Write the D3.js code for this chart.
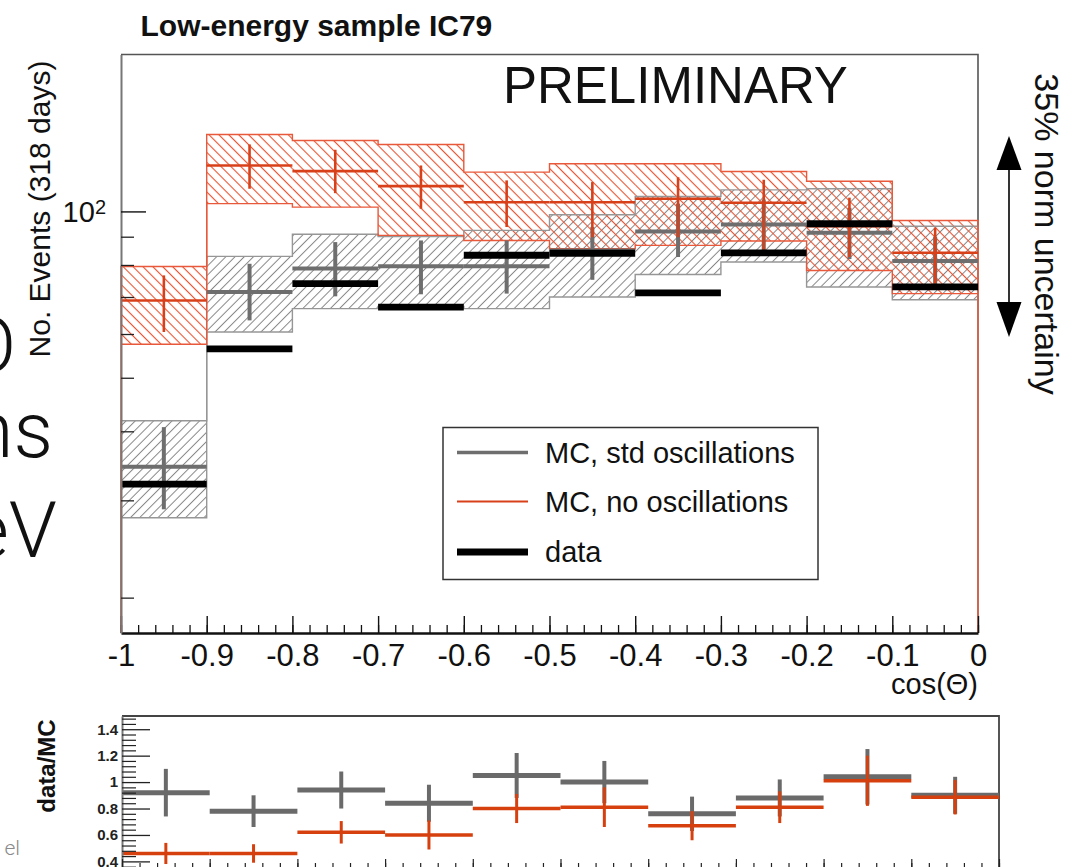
<!DOCTYPE html>
<html>
<head>
<meta charset="utf-8">
<script src="https://cdn.jsdelivr.net/npm/d3@7"></script>
<style>
  html, body { margin: 0; padding: 0; background: #ffffff; }
  svg { display: block; }
</style>
</head>
<body>
<svg id="chart" width="1083" height="867"></svg>
<script>
// ---- bins in cos(theta) ----
const binEdges = [-1.0, -0.9, -0.8, -0.7, -0.6, -0.5, -0.4, -0.3, -0.2, -0.1, 0.0];

// MC, no oscillations: central value, stat. error-bar ends, systematic band
const noOscValue    = [69.0, 121.1, 118.3, 111.1, 103.9, 103.9, 105.4, 103.7, 94.0, 84.2];
const noOscStatLow  = [60.5, 109.9, 107.9, 101.1, 93.7, 89.8, 89.8, 85.2, 82.7, 74.0];
const noOscStatHigh = [76.6, 132.2, 129.3, 121.1, 113.8, 113.0, 115.3, 114.1, 105.9, 93.4];
const noOscBandLow  = [57.5, 103.3, 101.8, 90.5, 88.6, 85.6, 86.8, 88.4, 78.2, 71.0];
const noOscBandHigh = [79.5, 137.8, 134.4, 132.2, 117.8, 122.0, 122.0, 118.1, 113.4, 96.3];

// MC, standard oscillations
const stdOscValue    = [34.5, 71.5, 78.8, 79.6, 79.6, 85.0, 92.0, 94.7, 91.5, 81.3];
const stdOscStatLow  = [28.9, 63.5, 70.2, 70.8, 71.0, 75.2, 82.7, 85.0, 82.0, 73.0];
const stdOscStatHigh = [40.7, 80.4, 88.0, 88.6, 88.6, 93.7, 103.3, 105.1, 101.5, 90.0];
const stdOscBandLow  = [27.9, 60.5, 66.7, 67.3, 66.7, 70.0, 76.9, 81.0, 73.0, 69.2];
const stdOscBandHigh = [41.8, 82.9, 90.9, 90.1, 92.4, 98.6, 106.4, 109.4, 109.9, 94.0];

// observed events
const dataValue = [32.1, 56.4, 74.0, 67.1, 83.3, 84.0, 71.2, 84.1, 95.0, 73.0];

// data/MC ratios
const ratioStd        = [0.92, 0.78, 0.94, 0.84, 1.05, 1.00, 0.76, 0.88, 1.04, 0.90];
const ratioStdErr     = [0.18, 0.12, 0.14, 0.14, 0.17, 0.16, 0.13, 0.14, 0.21, 0.14];
const ratioNoOsc      = [0.46, 0.46, 0.62, 0.60, 0.80, 0.81, 0.67, 0.81, 1.01, 0.885];
const ratioNoOscErr   = [0.08, 0.07, 0.085, 0.11, 0.11, 0.15, 0.11, 0.12, 0.19, 0.13];

// tick labels
const xTickValues = [-1.0, -0.9, -0.8, -0.7, -0.6, -0.5, -0.4, -0.3, -0.2, -0.1, 0.0];
const xTickLabels = ["-1", "-0.9", "-0.8", "-0.7", "-0.6", "-0.5", "-0.4", "-0.3", "-0.2", "-0.1", "0"];
const yMinorTickValues = [20, 30, 40, 50, 60, 70, 80, 90];
const yMajorTickValues = [100];
const ratioTickValues = [0.4, 0.6, 0.8, 1.0, 1.2, 1.4];
const ratioTickLabels = ["0.4", "0.6", "0.8", "1", "1.2", "1.4"];

const legendLabels = ["MC, std oscillations", "MC, no oscillations", "data"];

// ---- styling ----
const FONT = "'Liberation Sans', Arial, Helvetica, sans-serif";
const LIGHT_FONT = "Roboto, 'Open Sans', 'Liberation Sans', sans-serif";
const RED = "#d8401a";
const RED_HATCH = "#ea5230";
const RED_EDGE = "#e8583a";
const GREY = "#6e6e6e";
const GREY_HATCH = "#868686";
const GREY_EDGE = "#969696";

const svg = d3.select("#chart");

// ---- scales ----
const x = d3.scaleLinear().domain([-1, 0]).range([121, 978]);
const y = d3.scaleLog().domain([17.26, 192.3]).range([633, 54.5]);
const xr = d3.scaleLinear().domain([-1, 0]).range([122, 999]);
const yr = d3.scaleLinear().domain([0.35, 1.5]).range([868, 716]);

const bins = d3.range(binEdges.length - 1).map(i => ({
  i, lo: binEdges[i], hi: binEdges[i + 1], mid: (binEdges[i] + binEdges[i + 1]) / 2
}));

// ---- hatch patterns ----
const defs = svg.append("defs");
function hatch(id, color, angle, gap, width) {
  const p = defs.append("pattern")
    .attr("id", id)
    .attr("patternUnits", "userSpaceOnUse")
    .attr("width", gap).attr("height", gap)
    .attr("patternTransform", `rotate(${angle})`);
  p.append("line")
    .attr("x1", gap / 2).attr("y1", -1)
    .attr("x2", gap / 2).attr("y2", gap + 1)
    .attr("stroke", color).attr("stroke-width", width);
}
hatch("hatch-grey", GREY_HATCH, 45, 6.5, 1.0);
hatch("hatch-red", RED_HATCH, -45, 7.0, 1.1);

// ---- background slide text fragments ----
const frag = svg.append("g").attr("font-family", LIGHT_FONT).attr("font-weight", 300).attr("fill", "#111");
frag.append("text").attr("x", 16).attr("y", 372).attr("text-anchor", "end").attr("font-size", 78).text("O");
frag.append("text").attr("x", 53).attr("y", 457).attr("text-anchor", "end").attr("font-size", 78).text("ns");
frag.append("text").attr("x", 57).attr("y", 557).attr("text-anchor", "end").attr("font-size", 78).text("eV");
frag.append("text").attr("x", 20).attr("y", 855).attr("text-anchor", "end").attr("font-size", 21)
  .attr("fill", "#8a8a8a").text("el");

// ---- title ----
svg.append("text")
  .attr("x", 140.5).attr("y", 36)
  .attr("font-family", FONT).attr("font-weight", "bold").attr("font-size", 30)
  .attr("fill", "#111")
  .text("Low-energy sample IC79");

// ---- main frame (top and right border) ----
const [px0, px1] = x.range();
const [pyB, pyT] = y.range();
svg.append("path")
  .attr("d", `M${px0},${pyT}H${px1}V${pyB}`)
  .attr("fill", "none").attr("stroke", "#555").attr("stroke-width", 1.6);

// ---- systematic bands ----
function drawBand(cls, low, high, fill) {
  svg.append("g").attr("class", cls)
    .selectAll("rect").data(bins).join("rect")
    .attr("x", d => x(d.lo))
    .attr("width", d => x(d.hi) - x(d.lo))
    .attr("y", d => y(high[d.i]))
    .attr("height", d => y(low[d.i]) - y(high[d.i]))
    .attr("fill", fill);
}
drawBand("band-std", stdOscBandLow, stdOscBandHigh, "url(#hatch-grey)");
drawBand("band-noosc", noOscBandLow, noOscBandHigh, "url(#hatch-red)");

// band outlines as step contours
function stepPath(vals, dropToAxis) {
  const p = d3.path();
  p.moveTo(x(binEdges[0]), dropToAxis ? pyB : y(vals[0]));
  vals.forEach((v, i) => {
    p.lineTo(x(binEdges[i]), y(v));
    p.lineTo(x(binEdges[i + 1]), y(v));
  });
  if (dropToAxis) p.lineTo(x(binEdges[binEdges.length - 1]), pyB);
  return p.toString();
}
function drawEdges(low, high, color) {
  const g = svg.append("g").attr("fill", "none").attr("stroke", color).attr("stroke-width", 1.4);
  g.append("path").attr("d", stepPath(high, true));
  g.append("path").attr("d", stepPath(low, false));
}
drawEdges(stdOscBandLow, stdOscBandHigh, GREY_EDGE);
drawEdges(noOscBandLow, noOscBandHigh, RED_EDGE);

// ---- MC crosses ----
function drawCrosses(vals, lo, hi, color, hw, vw) {
  const g = svg.append("g").attr("stroke", color);
  g.selectAll("line.h").data(bins).join("line").attr("class", "h")
    .attr("x1", d => x(d.lo)).attr("x2", d => x(d.hi))
    .attr("y1", d => y(vals[d.i])).attr("y2", d => y(vals[d.i]))
    .attr("stroke-width", hw);
  g.selectAll("line.v").data(bins).join("line").attr("class", "v")
    .attr("x1", d => x(d.mid)).attr("x2", d => x(d.mid))
    .attr("y1", d => y(hi[d.i])).attr("y2", d => y(lo[d.i]))
    .attr("stroke-width", vw);
}
drawCrosses(stdOscValue, stdOscStatLow, stdOscStatHigh, GREY, 4, 4);
drawCrosses(noOscValue, noOscStatLow, noOscStatHigh, RED, 2.6, 2.6);

// ---- data ----
svg.append("g").attr("stroke", "#000").attr("stroke-width", 6.8)
  .selectAll("line").data(bins).join("line")
  .attr("x1", d => x(d.lo)).attr("x2", d => x(d.hi))
  .attr("y1", d => y(dataValue[d.i])).attr("y2", d => y(dataValue[d.i]));

// ---- main axes ----
const xMinor = d3.range(-1, 0.0001, 0.02);
const gxMinor = svg.append("g").attr("transform", `translate(0,${pyB})`)
  .call(d3.axisBottom(x).tickValues(xMinor).tickSize(-8).tickSizeOuter(0).tickFormat(""));
gxMinor.select(".domain").remove();
gxMinor.selectAll(".tick line").attr("stroke", "#111").attr("stroke-width", 1.3);

const gx = svg.append("g").attr("transform", `translate(0,${pyB})`)
  .call(d3.axisBottom(x).tickValues(xTickValues).tickSize(-17).tickSizeOuter(0).tickPadding(11)
    .tickFormat((d, i) => xTickLabels[i]));
gx.select(".domain").attr("stroke", "#111").attr("stroke-width", 2.4);
gx.selectAll(".tick line").attr("stroke", "#111").attr("stroke-width", 1.4);
gx.selectAll(".tick text").attr("font-family", FONT).attr("font-size", 31).attr("fill", "#111");

svg.append("text")
  .attr("x", 978).attr("y", 694)
  .attr("text-anchor", "end")
  .attr("font-family", FONT).attr("font-size", 29).attr("fill", "#111")
  .text("cos(Θ)");

const gyMinor = svg.append("g").attr("transform", `translate(${px0},0)`)
  .call(d3.axisLeft(y).tickValues(yMinorTickValues).tickSize(-13).tickSizeOuter(0).tickFormat(""));
gyMinor.select(".domain").attr("stroke", "#777").attr("stroke-width", 2);
gyMinor.selectAll(".tick line").attr("stroke", "#222").attr("stroke-width", 1.3);

const gy = svg.append("g").attr("transform", `translate(${px0},0)`)
  .call(d3.axisLeft(y).tickValues(yMajorTickValues).tickSize(-25).tickSizeOuter(0).tickFormat(""));
gy.select(".domain").remove();
gy.selectAll(".tick line").attr("stroke", "#111").attr("stroke-width", 1.4);
gy.selectAll(".tick").each(function () {
  const t = d3.select(this).append("text")
    .attr("x", -15).attr("y", 10.5)
    .attr("text-anchor", "end")
    .attr("font-family", FONT).attr("font-size", 29).attr("fill", "#111");
  t.append("tspan").text("10");
  t.append("tspan").attr("font-size", 20).attr("dy", -8).text("2");
});

svg.append("text")
  .attr("transform", "translate(50,209) rotate(-90)")
  .attr("text-anchor", "middle")
  .attr("font-family", FONT).attr("font-size", 30).attr("fill", "#111")
  .text("No. Events (318 days)");

// ---- PRELIMINARY ----
svg.append("text")
  .attr("x", 503).attr("y", 103)
  .attr("font-family", FONT).attr("font-size", 51).attr("fill", "#111")
  .text("PRELIMINARY");

// ---- legend ----
const leg = svg.append("g");
leg.append("rect")
  .attr("x", 443).attr("y", 427.5).attr("width", 375).attr("height", 152)
  .attr("fill", "#fff").attr("stroke", "#333").attr("stroke-width", 1.5);
const legendStyles = [
  { color: GREY, width: 3.6, cy: 452.5 },
  { color: RED, width: 2.2, cy: 501.5 },
  { color: "#000", width: 6.8, cy: 552 }
];
legendLabels.forEach((label, i) => {
  const s = legendStyles[i];
  leg.append("line")
    .attr("x1", 457).attr("x2", 528).attr("y1", s.cy).attr("y2", s.cy)
    .attr("stroke", s.color).attr("stroke-width", s.width);
  leg.append("text")
    .attr("x", 545).attr("y", s.cy + 10.3)
    .attr("font-family", FONT).attr("font-size", 29).attr("fill", "#111")
    .text(label);
});

// ---- normalisation arrow and note ----
const arr = svg.append("g");
arr.append("line").attr("x1", 1009).attr("x2", 1009).attr("y1", 160).attr("y2", 315)
  .attr("stroke", "#000").attr("stroke-width", 1.6);
arr.append("path").attr("d", "M1009,136 L1021.5,170 L996.5,170 Z").attr("fill", "#000");
arr.append("path").attr("d", "M1009,337 L1021.5,302 L996.5,302 Z").attr("fill", "#000");
svg.append("text")
  .attr("transform", "translate(1035,234) rotate(90)")
  .attr("text-anchor", "middle")
  .attr("font-family", FONT).attr("font-size", 34).attr("fill", "#111")
  .text("35% norm uncertainy");

// ---- ratio panel ----
const [rx0, rx1] = xr.range();
const [ryB, ryT] = yr.range();
svg.append("path")
  .attr("d", `M${rx0},${ryT}H${rx1}V${ryB + 4}`)
  .attr("fill", "none").attr("stroke", "#444").attr("stroke-width", 1.8);

function drawRatio(vals, errs, color, hw, vw) {
  const g = svg.append("g").attr("stroke", color);
  g.selectAll("line.h").data(bins).join("line").attr("class", "h")
    .attr("x1", d => xr(d.lo)).attr("x2", d => xr(d.hi))
    .attr("y1", d => yr(vals[d.i])).attr("y2", d => yr(vals[d.i]))
    .attr("stroke-width", hw);
  g.selectAll("line.v").data(bins).join("line").attr("class", "v")
    .attr("x1", d => xr(d.mid)).attr("x2", d => xr(d.mid))
    .attr("y1", d => yr(vals[d.i] + errs[d.i])).attr("y2", d => yr(vals[d.i] - errs[d.i]))
    .attr("stroke-width", vw);
}
drawRatio(ratioStd, ratioStdErr, "#6a6a6a", 5, 4);
drawRatio(ratioNoOsc, ratioNoOscErr, "#d6400e", 3.4, 3);

const ryMinor = d3.range(0.36, 1.5, 0.04).filter(v => ratioTickValues.every(t => Math.abs(t - v) > 0.01));
const gryMinor = svg.append("g").attr("transform", `translate(${rx0},0)`)
  .call(d3.axisLeft(yr).tickValues(ryMinor).tickSize(-14).tickSizeOuter(0).tickFormat(""));
gryMinor.select(".domain").attr("stroke", "#777").attr("stroke-width", 2);
gryMinor.selectAll(".tick line").attr("stroke", "#222").attr("stroke-width", 1.2);

const gry = svg.append("g").attr("transform", `translate(${rx0},0)`)
  .call(d3.axisLeft(yr).tickValues(ratioTickValues).tickSize(-28).tickSizeOuter(0).tickPadding(4)
    .tickFormat((d, i) => ratioTickLabels[i]));
gry.select(".domain").remove();
gry.selectAll(".tick line").attr("stroke", "#222").attr("stroke-width", 1.3);
gry.selectAll(".tick text").attr("font-family", FONT).attr("font-weight", "bold")
  .attr("font-size", 15).attr("fill", "#222");

const grxMinor = svg.append("g").attr("transform", `translate(0,${ryB})`)
  .call(d3.axisBottom(xr).tickValues(xMinor).tickSize(-5).tickSizeOuter(0).tickFormat(""));
grxMinor.select(".domain").attr("stroke", "#111").attr("stroke-width", 2);
grxMinor.selectAll(".tick line").attr("stroke", "#222").attr("stroke-width", 1.2);
const grx = svg.append("g").attr("transform", `translate(0,${ryB})`)
  .call(d3.axisBottom(xr).tickValues(xTickValues).tickSize(-9).tickSizeOuter(0).tickFormat(""));
grx.select(".domain").remove();
grx.selectAll(".tick line").attr("stroke", "#222").attr("stroke-width", 1.2);

svg.append("text")
  .attr("transform", "translate(55,766) rotate(-90)")
  .attr("text-anchor", "middle")
  .attr("font-family", FONT).attr("font-weight", "bold").attr("font-size", 24).attr("fill", "#111")
  .text("data/MC");
</script>
</body>
</html>
